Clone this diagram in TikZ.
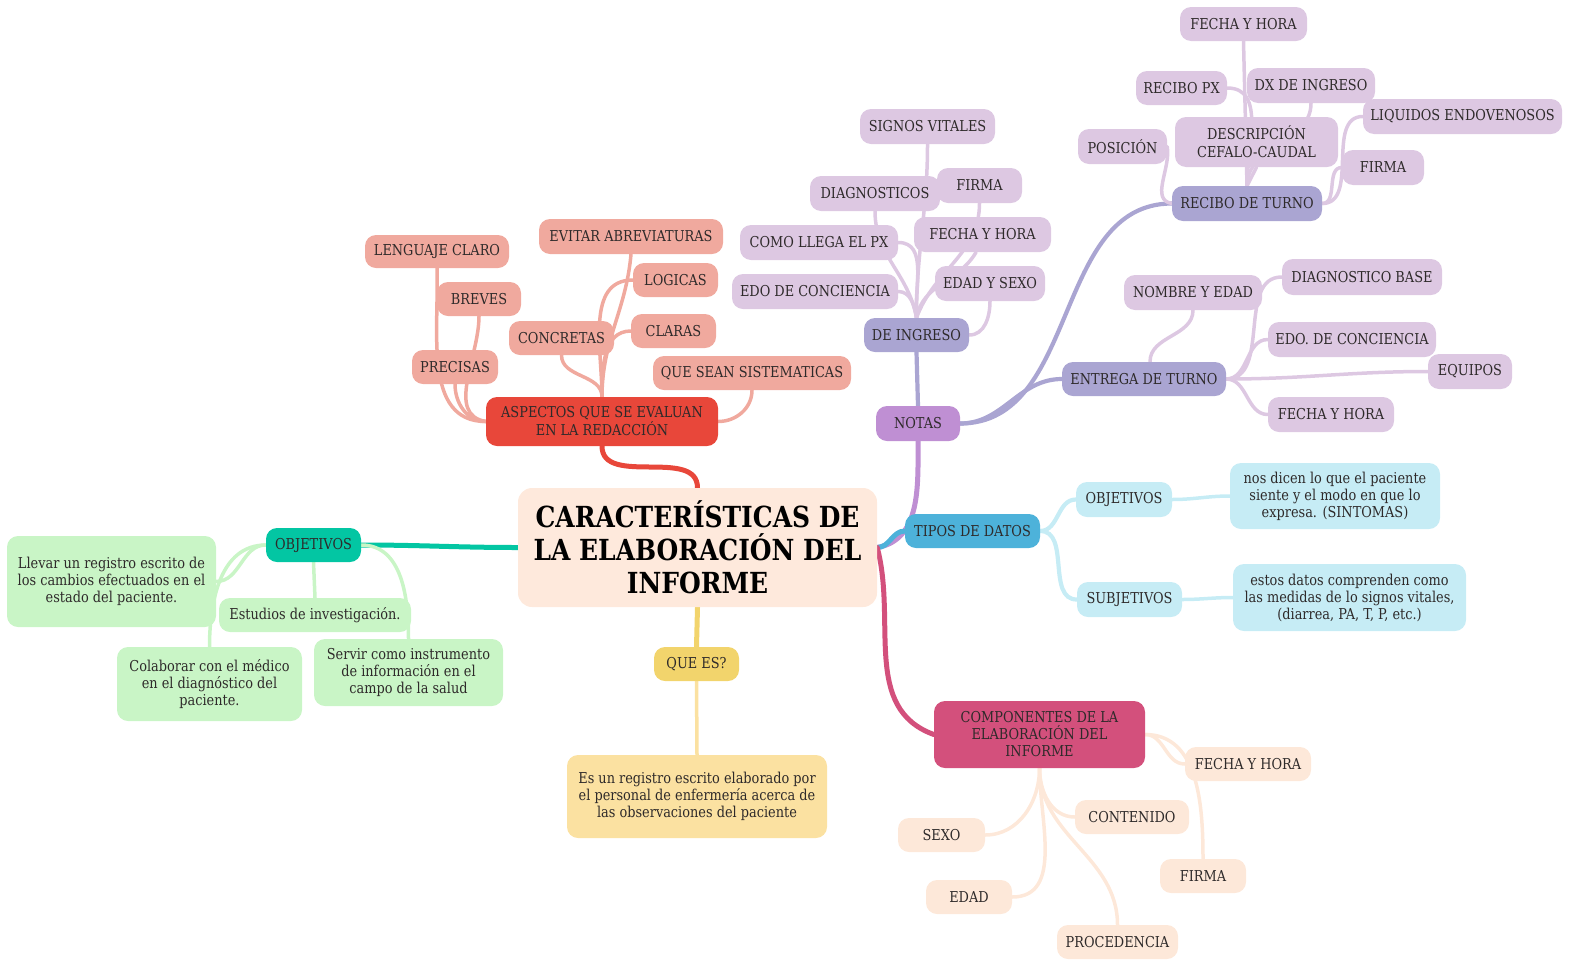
\documentclass[tikz,border=0pt]{standalone}
\usepackage{fontspec}
\setmainfont[FakeStretch=0.86]{DejaVu Serif}
\pgfdeclarelayer{bg}
\pgfsetlayers{bg,main}
\definecolor{txt}{HTML}{2E2A2A}
\definecolor{cen}{HTML}{FEE9DC}
\definecolor{red}{HTML}{E8473A}
\definecolor{sal}{HTML}{F0A99E}
\definecolor{pur}{HTML}{BF8FD3}
\definecolor{lb}{HTML}{AAA5D2}
\definecolor{lv}{HTML}{DDC8E2}
\definecolor{blu}{HTML}{4DB2DA}
\definecolor{cya}{HTML}{C6ECF5}
\definecolor{mag}{HTML}{D3507C}
\definecolor{pch}{HTML}{FDE8D9}
\definecolor{yel}{HTML}{F2D46C}
\definecolor{lye}{HTML}{FBE1A1}
\definecolor{teal}{HTML}{03C6A3}
\definecolor{lgr}{HTML}{C9F5C6}
\begin{document}
\begin{tikzpicture}[x=1pt,y=-1pt,
  box/.style={rounded corners=11pt, inner sep=0pt, align=center, text=txt,
    font=\fontsize{15}{17}\selectfont},
  para/.style={box, font=\fontsize{15}{17}\selectfont},
  sz/.style 2 args={minimum width=#1pt, minimum height=#2pt},
  cn/.style={line cap=round, line width=3.5pt},
  mid/.style={line cap=round, line width=4.2pt},
  big/.style={line cap=round, line width=5pt}
]
\useasboundingbox (0,0) rectangle (1572,959);
% central
\node[box, fill=cen, sz={359}{119}, rounded corners=14pt, text=black,
  font=\bfseries\fontsize{29}{33}\selectfont] (c) at (697.5,547.5)
  {CARACTERÍSTICAS DE\\LA ELABORACIÓN DEL\\INFORME};
% aspectos
\node[box, fill=red, sz={232}{49}, font=\fontsize{15}{18}\selectfont] (asp) at (602,421.5) {ASPECTOS QUE SE EVALUAN\\EN LA REDACCIÓN};
\node[box, fill=sal, sz={144}{33}] (lc) at (437,251.5) {LENGUAJE CLARO};
\node[box, fill=sal, sz={84}{34}] (br) at (479,299) {BREVES};
\node[box, fill=sal, sz={86}{34}] (pr) at (455,367) {PRECISAS};
\node[box, fill=sal, sz={184}{35}] (ev) at (631,236.5) {EVITAR ABREVIATURAS};
\node[box, fill=sal, sz={85}{34}] (lo) at (675.5,280) {LOGICAS};
\node[box, fill=sal, sz={105}{34}] (con) at (561.5,338) {CONCRETAS};
\node[box, fill=sal, sz={85}{34}] (cla) at (673.5,331) {CLARAS};
\node[box, fill=sal, sz={198}{34}] (qs) at (752,373) {QUE SEAN SISTEMATICAS};
% notas
\node[box, fill=pur, sz={84}{35}] (no) at (918,423.5) {NOTAS};
\node[box, fill=lb, sz={105}{34}] (di) at (916.5,335) {DE INGRESO};
\node[box, fill=lv, sz={135}{35}] (sv) at (927.5,126.5) {SIGNOS VITALES};
\node[box, fill=lv, sz={130}{35}] (dg) at (875,193.5) {DIAGNOSTICOS};
\node[box, fill=lv, sz={85}{35}] (fi) at (979.5,185.5) {FIRMA};
\node[box, fill=lv, sz={158}{35}] (cm) at (819,242.5) {COMO LLEGA EL PX};
\node[box, fill=lv, sz={137}{35}] (fh) at (982.5,234.5) {FECHA Y HORA};
\node[box, fill=lv, sz={166}{35}] (ec) at (815,291.5) {EDO DE CONCIENCIA};
\node[box, fill=lv, sz={110}{35}] (es) at (990,283.5) {EDAD Y SEXO};
\node[box, fill=lb, sz={150}{35}] (rt) at (1247,203.5) {RECIBO DE TURNO};
\node[box, fill=lv, sz={127}{34}] (fh2) at (1243.5,24) {FECHA Y HORA};
\node[box, fill=lv, sz={91}{34}] (rp) at (1181.5,88) {RECIBO PX};
\node[box, fill=lv, sz={128}{35}] (dx) at (1311,85.5) {DX DE INGRESO};
\node[box, fill=lv, sz={163}{50}, font=\fontsize{15}{18}\selectfont] (de) at (1256.5,142) {DESCRIPCIÓN\\CEFALO-CAUDAL};
\node[box, fill=lv, sz={89}{35}] (po) at (1122.5,146.5) {POSICIÓN};
\node[box, fill=lv, sz={199}{35}] (le) at (1462.5,116.5) {LIQUIDOS ENDOVENOSOS};
\node[box, fill=lv, sz={82}{35}] (fr) at (1383,167.5) {FIRMA};
\node[box, fill=lb, sz={164}{34}] (et) at (1144,379) {ENTREGA DE TURNO};
\node[box, fill=lv, sz={138}{35}] (ne) at (1193,292.5) {NOMBRE Y EDAD};
\node[box, fill=lv, sz={160}{36}] (db) at (1362,277) {DIAGNOSTICO BASE};
\node[box, fill=lv, sz={168}{35}] (ed) at (1352,339.5) {EDO. DE CONCIENCIA};
\node[box, fill=lv, sz={84}{35}] (eq) at (1470,371.5) {EQUIPOS};
\node[box, fill=lv, sz={126}{35}] (fh3) at (1331,414.5) {FECHA Y HORA};
% tipos
\node[box, fill=blu, sz={135}{34}] (td) at (972.5,531) {TIPOS DE DATOS};
\node[box, fill=cya, sz={96}{35}] (ob) at (1124,499.5) {OBJETIVOS};
\node[box, fill=cya, sz={105}{35}] (sb) at (1129.5,599.5) {SUBJETIVOS};
\node[para, fill=cya, sz={210}{66}] (nd) at (1335,496) {nos dicen lo que el paciente\\siente y el modo en que lo\\expresa. (SINTOMAS)};
\node[para, fill=cya, sz={233}{67}] (es2) at (1349.5,597.5) {estos datos comprenden como\\las medidas de lo signos vitales,\\(diarrea, PA, T, P, etc.)};
% componentes
\node[box, fill=mag, sz={211}{67}, font=\fontsize{15}{17}\selectfont] (cp) at (1039.5,734.5) {COMPONENTES DE LA\\ELABORACIÓN DEL\\INFORME};
\node[box, fill=pch, sz={126}{34}] (fh4) at (1248,764) {FECHA Y HORA};
\node[box, fill=pch, sz={114}{34}] (ct) at (1132,817) {CONTENIDO};
\node[box, fill=pch, sz={87}{34}] (sx) at (941.5,835) {SEXO};
\node[box, fill=pch, sz={86}{34}] (fm) at (1203,876) {FIRMA};
\node[box, fill=pch, sz={86}{34}] (ed2) at (969,897) {EDAD};
\node[box, fill=pch, sz={121}{34}] (pc) at (1117.5,942) {PROCEDENCIA};
% que es
\node[box, fill=yel, sz={85}{34}] (qe) at (696.5,664) {QUE ES?};
\node[para, fill=lye, sz={260}{83}] (er) at (697,796.5) {Es un registro escrito elaborado por\\el personal de enfermería acerca de\\las observaciones del paciente};
% objetivos
\node[box, fill=teal, sz={95}{34}] (ol) at (313.5,545) {OBJETIVOS};
\node[para, fill=lgr, sz={209}{91}] (ll) at (111.5,581.5) {Llevar un registro escrito de\\los cambios efectuados en el\\estado del paciente.};
\node[para, fill=lgr, sz={192}{34}] (est) at (315,615) {Estudios de investigación.};
\node[para, fill=lgr, sz={185}{74}] (co) at (209.5,684) {Colaborar con el médico\\en el diagnóstico del\\paciente.};
\node[para, fill=lgr, sz={189}{67}] (sv2) at (408.5,672.5) {Servir como instrumento\\de información en el\\campo de la salud};

\begin{pgfonlayer}{bg}
% main branches
\draw[big, red] (asp.south) to[out=-90,in=90] (c.north);
\draw[big, pur] (c.east) to[out=10,in=-90] (no.south);
\draw[big, blu] (c.east) to[out=0,in=180] (td.west);
\draw[big, mag] (c.east) to[out=-75,in=160] (cp.west);
\draw[big, yel] (c.south) -- (qe.north);
\draw[big, teal] (c.west) to[out=180,in=0] (ol.east);
% aspectos
\draw[cn, sal] (lc.south) to[out=-88,in=180] (asp.west);
\draw[cn, sal] (br.south) to[out=-90,in=170] (asp.west);
\draw[cn, sal] (pr.south) to[out=-90,in=180] (asp.west);
\draw[cn, sal] (con.south) to[out=-90,in=90] (asp.north);
\draw[cn, sal] (ev.south) to[out=-95,in=90] (asp.north);
\draw[cn, sal] (lo.west) to[out=180,in=90] (asp.north);
\draw[cn, sal] (cla.west) to[out=180,in=90] (asp.north);
\draw[cn, sal] (qs.south) to[out=-90,in=0] (asp.east);
% notas
\draw[mid, lb] (no.north) -- (di.south);
\draw[mid, lb] (no.east) to[out=0,in=180] (rt.west);
\draw[mid, lb] (no.east) to[out=0,in=180] (et.west);
\draw[cn, lv] (sv.south) to[out=-90,in=90] (di.north);
\draw[cn, lv] (dg.south) to[out=-90,in=100] (di.north);
\draw[cn, lv] (fi.south) to[out=-90,in=70] (di.north);
\draw[cn, lv] (fh.250) to[out=-120,in=80] (di.north);
\draw[cn, lv] (cm.east) to[out=0,in=95] (di.north);
\draw[cn, lv] (ec.east) to[out=0,in=100] (di.north);
\draw[cn, lv] (es.south) to[out=-90,in=0] (di.east);
\draw[cn, lv] (fh2.south) -- (rt.north);
\draw[cn, lv] (rp.east) to[out=0,in=90] (rt.north);
\draw[cn, lv] (dx.south) to[out=-90,in=90] (rt.north);
\draw[cn, lv] (de.south) -- (rt.north);
\draw[cn, lv] (po.east) to[out=-80,in=170] (rt.west);
\draw[cn, lv] (le.west) to[out=180,in=0] (rt.east);
\draw[cn, lv] (fr.west) to[out=180,in=0] (rt.east);
\draw[cn, lv] (ne.south) to[out=-90,in=90] ([xshift=6pt]et.north);
\draw[cn, lv] (db.west) to[out=180,in=0] (et.east);
\draw[cn, lv] (ed.west) to[out=180,in=0] (et.east);
\draw[cn, lv] (eq.west) to[out=180,in=0] (et.east);
\draw[cn, lv] (fh3.west) to[out=180,in=0] (et.east);
% tipos
\draw[mid, cya] (td.east) to[out=0,in=180] (ob.west);
\draw[mid, cya] (td.east) to[out=0,in=180] (sb.west);
\draw[cn, cya] (ob.east) to[out=0,in=180] (nd.west);
\draw[cn, cya] (sb.east) to[out=0,in=180] (es2.west);
% componentes
\draw[cn, pch] (cp.south) to[out=-90,in=0] (sx.east);
\draw[cn, pch] (cp.south) to[out=-90,in=0] (ed2.east);
\draw[cn, pch] (cp.south) to[out=-90,in=180] (ct.west);
\draw[cn, pch] (cp.south) to[out=-90,in=90] (pc.north);
\draw[cn, pch] (cp.east) to[out=0,in=180] (fh4.west);
\draw[cn, pch] (cp.east) to[out=0,in=90] (fm.north);
% que es
\draw[cn, lye] (qe.south) -- (er.north);
% objetivos
\draw[cn, lgr] (ol.west) to[out=180,in=0] (ll.east);
\draw[cn, lgr] (ol.west) to[out=180,in=90] (co.north);
\draw[cn, lgr] (ol.south) -- (est.north);
\draw[cn, lgr] (ol.east) to[out=0,in=90] (sv2.north);
\end{pgfonlayer}
\end{tikzpicture}
\end{document}
